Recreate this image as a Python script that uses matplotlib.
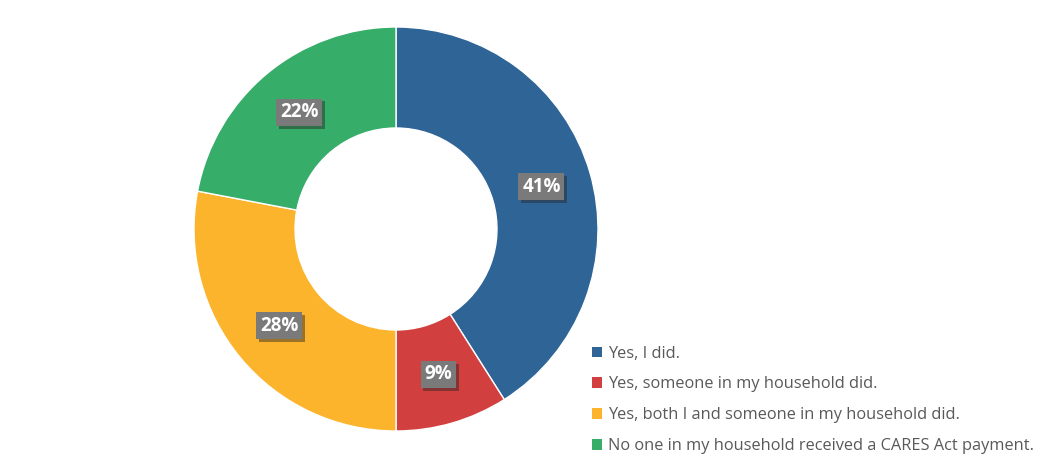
import matplotlib
matplotlib.use("Agg")
import matplotlib.pyplot as plt
import matplotlib.patheffects as pe
from matplotlib.patches import Patch
import numpy as np

categories = ["Yes, I did.",
              "Yes, someone in my household did.",
              "Yes, both I and someone in my household did.",
              "No one in my household received a CARES Act payment."]
values = [41, 9, 28, 22]
colors = ["#2F6497", "#D13F3E", "#FBB42C", "#37AD6A"]

plt.rcParams['font.family'] = ['Open Sans', 'DejaVu Sans']

fig = plt.figure(figsize=(10.63, 4.72), dpi=100)
ax = fig.add_axes([194/1063, (472-431)/472, 404/1063, 404/472])
wedges, _ = ax.pie(values, colors=colors, startangle=90, counterclock=False,
                   radius=1.0, wedgeprops=dict(width=0.5, edgecolor="white", linewidth=1))
total = sum(values)
cum = 0
for v in values:
    mid = 90 - (cum + v / 2) / total * 360
    cum += v
    r = 0.75
    x, y = r * np.cos(np.radians(mid)), r * np.sin(np.radians(mid))
    ax.text(x, y, f"{v}%", ha="center", va="center", color="white", fontsize=13.5,
            fontweight="bold",
            bbox=dict(boxstyle="square,pad=0.2", facecolor="#7A7A7A", edgecolor="none",
                      path_effects=[pe.SimplePatchShadow(offset=(2, -2), alpha=0.45), pe.Normal()]))
ax.set_xlim(-1, 1)
ax.set_ylim(-1, 1)
ax.set_aspect("equal")
ax.axis("off")

handles = [Patch(facecolor=c, edgecolor="none") for c in colors]
fig.legend(handles, categories, loc="upper left", bbox_to_anchor=(577/1063, 1 - 331/472),
           frameon=False, fontsize=11.8, labelcolor="#595959", handlelength=0.65,
           handleheight=0.65, handletextpad=0.35, labelspacing=0.9)

fig.savefig("out.png", dpi=100)
